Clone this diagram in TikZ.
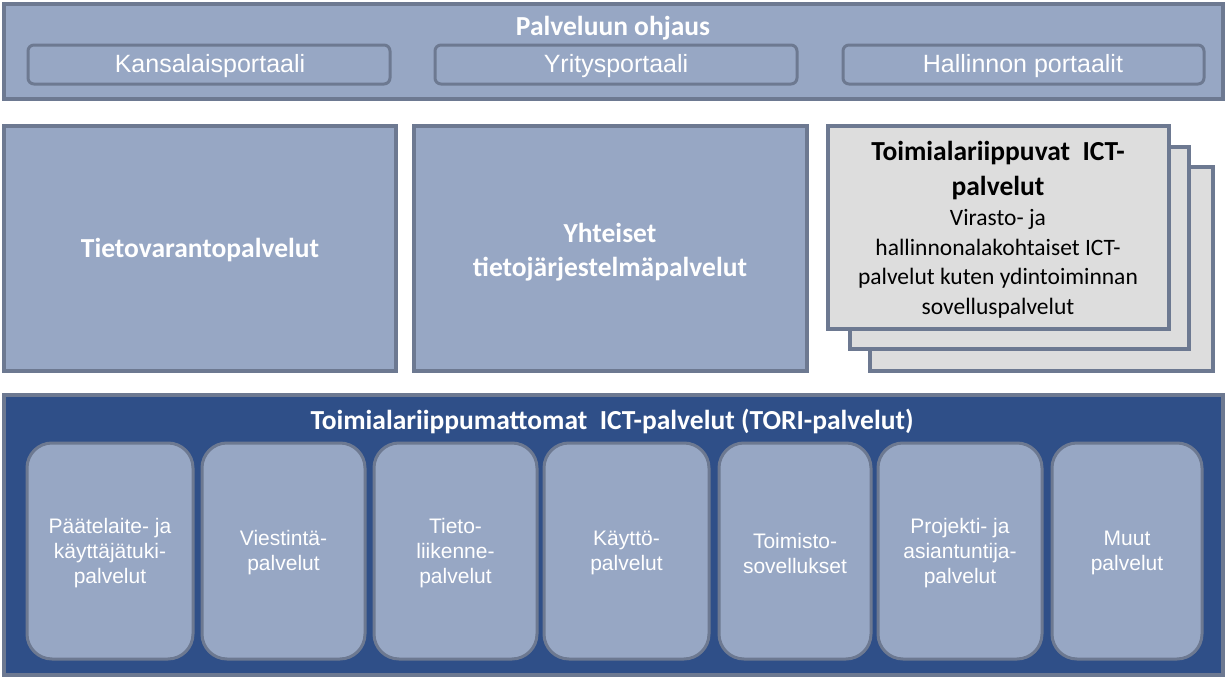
\documentclass[tikz,border=0pt]{standalone}
\usepackage{fontspec}
\setmainfont{Liberation Sans}
\newfontfamily\calib{Carlito}
\definecolor{lightb}{HTML}{97A7C4}
\definecolor{edgeb}{HTML}{6D7991}
\definecolor{darkb}{HTML}{2F4F88}
\definecolor{grayf}{HTML}{DDDDDD}
\tikzset{
  outerbox/.style={draw=edgeb, line width=4pt, fill=lightb, rectangle, inner sep=0pt},
  portal/.style={draw=edgeb, line width=3pt, fill=lightb, rounded corners=6pt},
  portaltext/.style={text=white, font=\fontsize{25}{29}\selectfont},
  boldtitle/.style={text=white, font=\calib\bfseries\fontsize{27.5}{34}\selectfont, align=center},
  stackbox/.style={draw=edgeb, line width=4pt, fill=grayf},
  stacktitle/.style={text=black, anchor=base, inner sep=0pt, font=\calib\bfseries\fontsize{27.5}{34}\selectfont},
  stackbody/.style={text=black, anchor=base, inner sep=0pt, font=\calib\fontsize{23.5}{29}\selectfont},
  torib/.style={draw=edgeb, line width=4pt, fill=darkb},
  svc/.style={draw=edgeb, line width=3pt, fill=lightb, rounded corners=25pt},
  svctext/.style={text=white, align=center, font=\fontsize{21}{25}\selectfont},
}
\begin{document}
\begin{tikzpicture}[x=1pt,y=-1pt]
\useasboundingbox (0,0) rectangle (1227,680);
% top
\draw[outerbox] (4,4) rectangle (1223,99);
\node[boldtitle] (top) at (613,28) {Palveluun ohjaus};
\draw[portal] (28,45) rectangle (390,84);
\node[portaltext] (p1) at (210,66) {Kansalaisportaali};
\draw[portal] (435,45) rectangle (797,84);
\node[portaltext] (p2) at (616,66) {Yritysportaali};
\draw[portal] (843,45) rectangle (1204,84);
\node[portaltext] (p3) at (1023,66) {Hallinnon portaalit};
% middle
\draw[outerbox] (4,126) rectangle (396,371);
\node[boldtitle] (tv) at (200,250) {Tietovarantopalvelut};
\draw[outerbox] (414,126) rectangle (807,371);
\node[boldtitle] (yh) at (610,252) {Yhteiset\\tietojärjestelmäpalvelut};
\draw[stackbox] (870,167) rectangle (1213,371);
\draw[stackbox] (850,147) rectangle (1189,349);
\draw[stackbox] (828,126) rectangle (1169,329);
\node[stacktitle] (ti1) at (998,160.5) {Toimialariippuvat\ \ ICT-};
\node[stacktitle] (ti2) at (998,195.5) {palvelut};
\node[stackbody] (tb1) at (998,225.5) {Virasto- ja};
\node[stackbody] (tb2) at (998,255.5) {hallinnonalakohtaiset ICT-};
\node[stackbody] (tb3) at (998,284.5) {palvelut kuten ydintoiminnan};
\node[stackbody] (tb4) at (998,314) {sovelluspalvelut};
% bottom
\draw[torib] (4,395) rectangle (1223,675);
\node[boldtitle] (tori) at (612,421) {Toimialariippumattomat\ \ ICT-palvelut (TORI-palvelut)};
\draw[svc] (27,443) rectangle (193,659);
\node[svctext] (s1) at (110,553) {Päätelaite- ja\\käyttäjätuki-\\palvelut};
\draw[svc] (202,443) rectangle (365,659);
\node[svctext] (s2) at (283.5,553) {Viestintä-\\palvelut};
\draw[svc] (374,443) rectangle (537,659);
\node[svctext] (s3) at (455.5,553) {Tieto-\\liikenne-\\palvelut};
\draw[svc] (544,443) rectangle (709,659);
\node[svctext] (s4) at (626.5,553) {Käyttö-\\palvelut};
\draw[svc] (719,443) rectangle (871,659);
\node[svctext] (s5) at (795,553) {Toimisto-\\sovellukset};
\draw[svc] (878,443) rectangle (1042,659);
\node[svctext] (s6) at (960,553) {Projekti- ja\\asiantuntija-\\palvelut};
\draw[svc] (1052,443) rectangle (1202,659);
\node[svctext] (s7) at (1127,553) {Muut\\palvelut};
\end{tikzpicture}
\end{document}
